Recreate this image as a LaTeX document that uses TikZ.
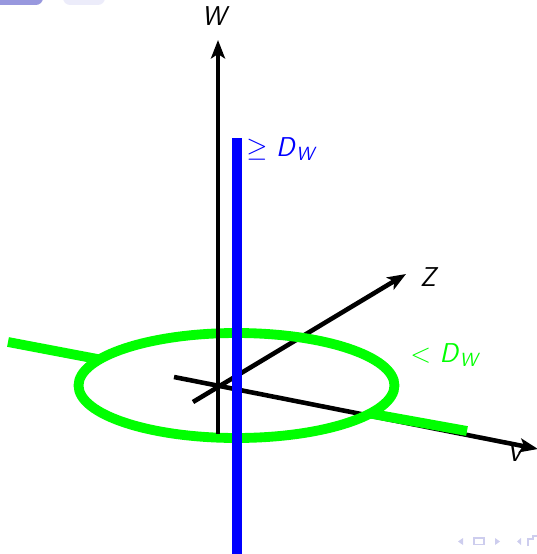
\RequirePackage{fix-cm}
\documentclass[tikz,border=0pt]{standalone}
\usetikzlibrary{arrows.meta}

\definecolor{navfill}{RGB}{205,205,238}
\definecolor{tabdark}{RGB}{152,152,222}
\definecolor{tablight}{RGB}{236,236,250}
\newcommand{\axlab}[1]{\textsf{\textit{#1}}}

\tikzset{
  axisline/.style={line width=2.6pt, -{Stealth[length=10.5pt,width=8pt,inset=2.5pt]}},
  bluebar/.style={blue, line width=5.6pt},
  greenring/.style={green, line width=5.6pt},
  axlabel/.style={font=\fontsize{15.5}{18}\selectfont\sffamily\itshape, inner sep=0pt},
  setlabel/.style={font=\fontsize{15.5}{18}\selectfont\sffamily, inner sep=0pt, anchor=west}
}

\begin{document}
\begin{tikzpicture}[x=0.02cm, y=-0.02cm]

  % --- 0. 画面の大きさ ---
  \useasboundingbox (0,0) rectangle (537,554);

  % --- 1. スライドの飾り (左上のタブ, 右下の記号) ---
  \fill[tabdark, rounded corners=4pt] (-10,-20) rectangle (43,5);
  \fill[tablight, rounded corners=4pt] (63,-20) rectangle (105,5);
  \fill[navfill] (458,541.5) -- (463,538) -- (463,545) -- cycle;
  \draw[navfill, line width=0.8pt] (474,538) rectangle (484,544.5);
  \fill[navfill] (500,541.5) -- (495,538) -- (495,545) -- cycle;
  \fill[navfill] (517,541.5) -- (521,538) -- (521,545) -- cycle;
  \draw[navfill, line width=0.8pt] (528,546) -- (528,539) -- (533,539) -- (533,536) -- (540,536);

  % --- 2. 座標軸の点 ---
  \coordinate (wlow) at (218,434);
  \coordinate (wtop) at (218,40);
  \coordinate (zlow) at (193,402);
  \coordinate (ztop) at (406,274);
  \coordinate (vlow) at (174,377);
  \coordinate (vtop) at (538,449);

  % --- 3. 軸ラベル ---
  \node[axlabel] (wlab) at (214,16) {W};
  \node[axlabel] (zlab) at (428,277) {Z};
  \node[axlabel] (vlab) at (515,452) {V};

  % --- 4. 座標軸 (V, Z) ---
  \draw[axisline] (vlow) -- (vtop);
  \draw[axisline] (zlow) -- (ztop);

  % --- 5. 緑の輪と線 (< D_W) ---
  \draw[greenring] (236.5,385.5) ellipse [x radius=3.16cm, y radius=1.05cm];
  \draw[greenring] (8,342) -- (100,359.5);
  \draw[greenring] (370,413.5) -- (467,431);

  % --- 6. W 軸 ---
  \draw[axisline] (wlow) -- (wtop);

  % --- 7. 青い線 (>= D_W) ---
  \coordinate (btop) at (237,138);
  \coordinate (blow) at (237,560);
  \draw[bluebar] (btop) -- (blow);

  % --- 8. 集合のラベル ---
  \node[setlabel, blue] (bigset) at (246,149) {$\geq$ \axlab{D}\textsubscript{\axlab{W}}};
  \node[setlabel, green] (smallset) at (410,355) {$<$ \axlab{D}\textsubscript{\axlab{W}}};

\end{tikzpicture}
\end{document}
